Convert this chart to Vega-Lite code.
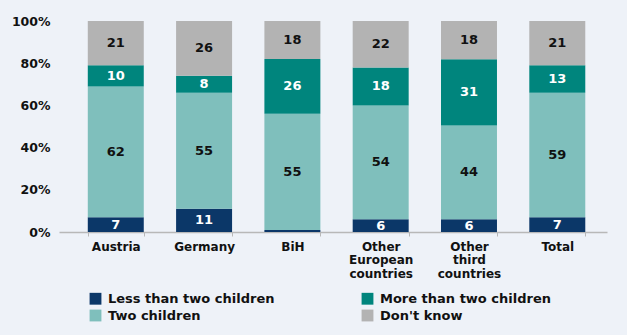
{
  "$schema": "https://vega.github.io/schema/vega-lite/v6.json",
  "width": 548,
  "height": 211,
  "autosize": {"type": "none"},
  "padding": {"left": 59, "top": 21, "right": 20, "bottom": 103},
  "background": "#eef2f8",
  "config": {"view": {"stroke": null}, "font": "DejaVu Sans"},
  "data": {
    "values": [
      {"country": "Austria", "series": "Less than two children", "o": 1, "value": 7},
      {"country": "Austria", "series": "Two children", "o": 2, "value": 62},
      {"country": "Austria", "series": "More than two children", "o": 3, "value": 10},
      {"country": "Austria", "series": "Don't know", "o": 4, "value": 21},
      {"country": "Germany", "series": "Less than two children", "o": 1, "value": 11},
      {"country": "Germany", "series": "Two children", "o": 2, "value": 55},
      {"country": "Germany", "series": "More than two children", "o": 3, "value": 8},
      {"country": "Germany", "series": "Don't know", "o": 4, "value": 26},
      {"country": "BiH", "series": "Less than two children", "o": 1, "value": 1},
      {"country": "BiH", "series": "Two children", "o": 2, "value": 55},
      {"country": "BiH", "series": "More than two children", "o": 3, "value": 26},
      {"country": "BiH", "series": "Don't know", "o": 4, "value": 18},
      {"country": "Other European countries", "series": "Less than two children", "o": 1, "value": 6},
      {"country": "Other European countries", "series": "Two children", "o": 2, "value": 54},
      {"country": "Other European countries", "series": "More than two children", "o": 3, "value": 18},
      {"country": "Other European countries", "series": "Don't know", "o": 4, "value": 22},
      {"country": "Other third countries", "series": "Less than two children", "o": 1, "value": 6},
      {"country": "Other third countries", "series": "Two children", "o": 2, "value": 44},
      {"country": "Other third countries", "series": "More than two children", "o": 3, "value": 31},
      {"country": "Other third countries", "series": "Don't know", "o": 4, "value": 18},
      {"country": "Total", "series": "Less than two children", "o": 1, "value": 7},
      {"country": "Total", "series": "Two children", "o": 2, "value": 59},
      {"country": "Total", "series": "More than two children", "o": 3, "value": 13},
      {"country": "Total", "series": "Don't know", "o": 4, "value": 21}
    ]
  },
  "transform": [
    {"stack": "value", "groupby": ["country"], "sort": [{"field": "o", "order": "ascending"}], "as": ["y0", "y1"], "offset": "normalize"},
    {"calculate": "(datum.y0 + datum.y1) / 2", "as": "ym"}
  ],
  "encoding": {
    "x": {
      "field": "country",
      "type": "nominal",
      "sort": ["Austria", "Germany", "BiH", "Other European countries", "Other third countries", "Total"],
      "scale": {"paddingInner": 0.366, "paddingOuter": 0.286, "align": 0.57},
      "axis": {
        "title": null,
        "labelAngle": 0,
        "labelFont": "DejaVu Sans",
        "labelFontSize": 12,
        "labelFontWeight": "bold",
        "labelColor": "#111111",
        "labelLineHeight": 13.5,
        "labelPadding": 5,
        "labelBaseline": "top",
        "labelExpr": "datum.value == 'Other European countries' ? ['Other', 'European', 'countries'] : datum.value == 'Other third countries' ? ['Other', 'third', 'countries'] : datum.value",
        "tickBand": "extent",
        "tickSize": 4,
        "tickColor": "#b8b8b8",
        "domainColor": "#b8b8b8",
        "domainWidth": 1.5
      }
    }
  },
  "layer": [
    {
      "mark": {"type": "bar"},
      "encoding": {
        "y": {
          "field": "y0",
          "type": "quantitative",
          "scale": {"domain": [0, 1], "nice": false},
          "axis": {
            "title": null,
            "values": [0, 0.2, 0.4, 0.6, 0.8, 1],
            "format": ".0%",
            "grid": false,
            "domain": false,
            "ticks": false,
            "labelPadding": 9,
            "labelFont": "DejaVu Sans",
            "labelFontSize": 12.5,
            "labelFontWeight": "bold",
            "labelColor": "#111111"
          }
        },
        "y2": {"field": "y1"},
        "color": {
          "field": "series",
          "type": "nominal",
          "scale": {
            "domain": ["Less than two children", "Two children", "More than two children", "Don't know"],
            "range": ["#0b3768", "#7fbfbc", "#00857d", "#b3b3b3"]
          },
          "legend": {
            "title": null,
            "orient": "none",
            "legendX": 30,
            "legendY": 271,
            "columns": 2,
            "symbolType": "square",
            "symbolSize": 140,
            "symbolStrokeWidth": 0,
            "symbolOpacity": 1,
            "labelFont": "DejaVu Sans",
            "labelFontSize": 13,
            "labelFontWeight": "bold",
            "labelColor": "#111111",
            "labelOffset": 6,
            "columnPadding": 86,
            "rowPadding": 3,
            "labelLimit": 300
          }
        }
      }
    },
    {
      "transform": [{"filter": "datum.value >= 3"}],
      "mark": {"type": "text", "fontSize": 13, "fontWeight": "bold", "font": "DejaVu Sans", "baseline": "middle"},
      "encoding": {
        "y": {"field": "ym", "type": "quantitative"},
        "text": {"field": "value", "type": "quantitative"},
        "color": {
          "condition": {"test": "datum.series == 'Less than two children' || datum.series == 'More than two children'", "value": "#ffffff"},
          "value": "#111111"
        }
      }
    }
  ]
}
